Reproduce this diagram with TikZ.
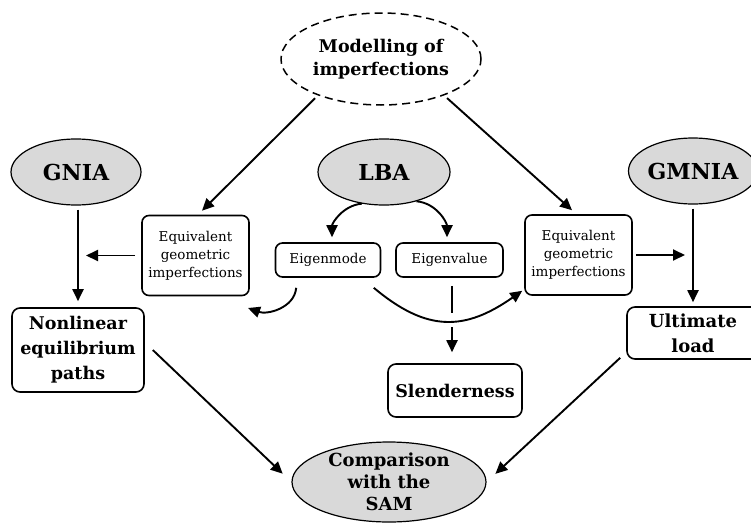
\documentclass[tikz,border=0pt]{standalone}
\usepackage{fontspec}
\setmainfont{DejaVu Serif}
\usetikzlibrary{shapes.geometric,arrows.meta}
\begin{document}
\begin{tikzpicture}[x=1pt,y=-1pt,
  ell/.style={ellipse, draw, line width=1.2pt, fill=black!15, inner sep=-40pt,
    align=center, font=\bfseries\fontsize{22}{26}\selectfont},
  dell/.style={ellipse, draw, dash pattern=on 8pt off 5pt, line width=1.5pt, inner sep=-40pt,
    align=center, font=\bfseries\fontsize{17.5}{23}\selectfont},
  bigbox/.style={rectangle, rounded corners=8pt, draw, line width=1.6pt, inner sep=0pt,
    align=center, font=\bfseries\fontsize{17.5}{25}\selectfont},
  smallbox/.style={rectangle, rounded corners=7pt, draw, line width=1.6pt, inner sep=0pt,
    align=center, font=\fontsize{13.5}{18}\selectfont},
  conn/.style={line width=1.9pt},
  arr/.style={conn, -{Triangle[length=12pt,width=11pt]}}
]
\useasboundingbox (0,0) rectangle (751,522);

\node[dell, minimum width=200pt, minimum height=92pt] (mod) at (381,59) {Modelling of\\imperfections};
\node[ell, minimum width=130pt, minimum height=66pt] (gnia) at (76,172) {GNIA};
\node[ell, minimum width=132pt, minimum height=66pt] (lba) at (384,172) {LBA};
\node[ell, minimum width=129pt, minimum height=66pt] (gmnia) at (693,171) {GMNIA};

\node[smallbox, minimum width=107pt, minimum height=80pt] (eql) at (195.5,255.5) {Equivalent\\geometric\\imperfections};
\node[smallbox, minimum width=105pt, minimum height=34pt] (eigm) at (328,260) {Eigenmode};
\node[smallbox, minimum width=107pt, minimum height=34pt] (eigv) at (449.5,260) {Eigenvalue};
\node[smallbox, minimum width=107pt, minimum height=80pt] (eqr) at (578.5,255) {Equivalent\\geometric\\imperfections};

\node[bigbox, minimum width=132pt, minimum height=84pt] (nonl) at (78,350) {Nonlinear\\equilibrium\\paths};
\node[bigbox, minimum width=134pt, minimum height=53pt] (slen) at (455,390.5) {Slenderness};
\node[bigbox, minimum width=132pt, minimum height=52pt, font=\bfseries\fontsize{18}{25}\selectfont] (ult) at (693,333) {Ultimate\\load};
\node[ell, minimum width=194pt, minimum height=80pt, font=\bfseries\fontsize{18}{22}\selectfont] (comp) at (389,482) {Comparison\\with the\\SAM};

\coordinate (tipL) at (86,254);
\coordinate (tipR) at (685,254);
\coordinate (eigmEnd) at (248,308);
\coordinate (gapA) at (452,313);
\coordinate (gapB) at (452,327);

\draw[arr, shorten <=4pt] (mod.210) -- ([xshift=6.5pt,yshift=4pt]eql.north);
\draw[arr, shorten <=4pt] (mod.330) -- ([xshift=-6.5pt,yshift=4pt]eqr.north);
\draw[arr, shorten <=4pt, shorten >=6pt] (nonl.north |- gnia.south) -- (nonl.north);
\draw[arr, shorten <=6pt] (eql.west) -- (eql.west -| tipL);
\draw[arr, shorten >=5pt] (lba.235) to[out=185,in=90] ([xshift=4pt]eigm.north);
\draw[arr, shorten >=5pt] (lba.318) to[out=-5,in=90] ([xshift=-2.5pt]eigv.north);
\draw[arr] ([xshift=21.5pt,yshift=-10pt]eigm.south west) to[out=-95,in=-20] (eigmEnd);
\draw[arr] ([xshift=-7.5pt,yshift=-10pt]eigm.south east) to[out=-40,in=215,looseness=1.2] ([xshift=-2pt,yshift=5pt]eqr.south west);
\draw[conn, shorten <=8pt] (gapA |- eigv.south) -- (gapA);
\draw[arr, shorten >=11pt] (gapB) -- (gapB |- slen.north);
\draw[arr, shorten <=3pt] (eqr.east) -- (eqr.east -| tipR);
\draw[arr, shorten <=4pt, shorten >=4pt] (gmnia.south) -- (ult.north);
\draw[arr, shorten >=12pt] ([xshift=8pt]nonl.east) -- (comp.west);
\draw[arr, shorten >=12pt] ([xshift=-6pt,yshift=2pt]ult.south west) -- (comp.east);
\end{tikzpicture}
\end{document}
